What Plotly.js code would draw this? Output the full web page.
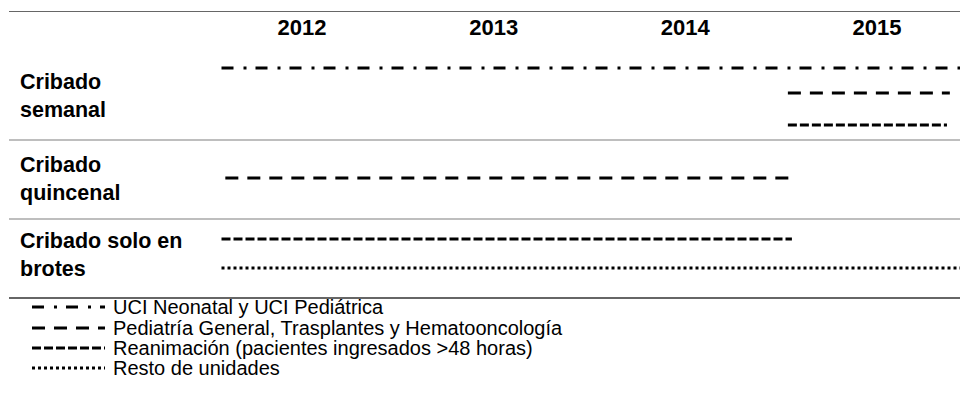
<!DOCTYPE html>
<html><head><meta charset="utf-8">
<script src="https://cdn.plot.ly/plotly-3.0.1.min.js"></script>
<style>html,body{margin:0;padding:0;background:#fff}#chart{width:960px;height:409px}</style>
</head><body><div id="chart"></div>
<script>
// ---- data ----
const years = [2012, 2013, 2014, 2015];
const groups = ['Cribado semanal', 'Cribado quincenal', 'Cribado solo en brotes'];
const groupLabels = ['Cribado<br>semanal', 'Cribado<br>quincenal', 'Cribado solo en<br>brotes'];
const units = ['UCI Neonatal y UCI Pediátrica',
               'Pediatría General, Trasplantes y Hematooncología',
               'Reanimación (pacientes ingresados >48 horas)',
               'Resto de unidades'];
// screening periods (decimal years): group index, unit index, start, end
const segGroup = [0, 0, 0, 1, 2, 2];
const segUnit  = [0, 1, 2, 1, 2, 3];
const segStart = [2012.08, 2015.035, 2015.035, 2012.10, 2012.08, 2012.08];
const segEnd   = [2016.00, 2015.88, 2015.865, 2015.06, 2015.056, 2016.00];

// ---- presentation ----
const W = 960, H = 409;
const M = {l: 9, r: 0, t: 12, b: 112};
const plotH = H - M.t - M.b, plotW = W - M.l - M.r;
const FONT = 'Liberation Sans, Arial, Helvetica, sans-serif';
const unitStyle = [
  {dash: '12px,10px,3px,9px', width: 3},
  {dash: '13px,9px', width: 3},
  {dash: '9px,3px', width: 3},
  {dash: '3px,3px', width: 3}
];
// vertical lane of each segment within the plot (plot pixels from top)
const laneOf = {'0-0': 56, '0-1': 81, '0-2': 113, '1-1': 166, '2-2': 227, '2-3': 256};
const groupCenter = [83.5, 167, 243];
const separators = [128, 207];

const traces = segGroup.map((g, i) => {
  const u = segUnit[i];
  const yy = laneOf[g + '-' + u];
  return {
    type: 'scatter', mode: 'lines',
    x: [segStart[i], segEnd[i]], y: [yy, yy],
    name: units[u], showlegend: false, hoverinfo: 'skip',
    line: {color: '#000', width: unitStyle[u].width, dash: unitStyle[u].dash}
  };
});

const px2paperX = px => (px - M.l) / plotW;
const px2paperY = py => (H - M.b - py) / plotH;

const shapes = separators.map(s => ({
  type: 'line', xref: 'paper', yref: 'y', x0: 0, x1: 1, y0: s, y1: s,
  line: {color: '#a8a8a8', width: 1.5}
}));
const annotations = groups.map((g, i) => ({
  xref: 'paper', yref: 'y', x: px2paperX(18), y: groupCenter[i],
  xanchor: 'left', yanchor: 'middle', align: 'left', showarrow: false,
  text: groupLabels[i], font: {family: FONT, size: 21.5, color: '#000', weight: 'bold'}
}));
const legendRows = [307, 328, 348, 368];
units.forEach((u, i) => {
  const py = legendRows[i];
  shapes.push({
    type: 'line', xref: 'paper', yref: 'paper',
    x0: px2paperX(32), x1: px2paperX(105), y0: px2paperY(py), y1: px2paperY(py),
    line: {color: '#000', width: unitStyle[i].width, dash: unitStyle[i].dash}
  });
  annotations.push({
    xref: 'paper', yref: 'paper', x: px2paperX(111), y: px2paperY(py),
    xanchor: 'left', yanchor: 'middle', showarrow: false, text: u,
    font: {family: FONT, size: 20, color: '#000'}
  });
});

const yearPx = 191.67; // pixels per year
const x0 = 2012.5 - (302 - M.l) / yearPx;
const x1 = x0 + plotW / yearPx;

const layout = {
  width: W, height: H, margin: M,
  paper_bgcolor: '#fff', plot_bgcolor: '#fff',
  showlegend: false,
  font: {family: FONT, color: '#000'},
  xaxis: {
    range: [x0, x1], side: 'top', ticklabelposition: 'inside', ticklabelstandoff: 9,
    tickvals: years.map(y => y + 0.5), ticktext: years.map(String),
    ticks: '', showgrid: false, zeroline: false,
    showline: true, mirror: true, linecolor: '#666', linewidth: 1.5,
    tickfont: {family: FONT, size: 22, color: '#000', weight: 'bold'},
    fixedrange: true
  },
  yaxis: {range: [plotH, 0], visible: false, fixedrange: true},
  shapes: shapes,
  annotations: annotations
};

Plotly.newPlot('chart', traces, layout, {displayModeBar: false, staticPlot: true});
</script>
</body></html>
